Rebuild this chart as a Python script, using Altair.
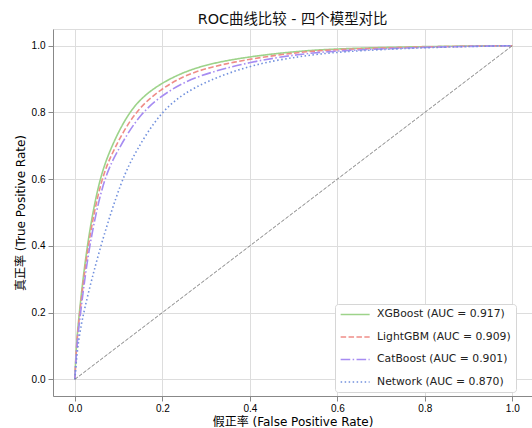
import altair as alt
import pandas as pd

# ---- data ----
models = [
    "XGBoost (AUC = 0.917)",
    "LightGBM (AUC = 0.909)",
    "CatBoost (AUC = 0.901)",
    "Network (AUC = 0.870)",
]
colors = ["#9dd38a", "#ef8d88", "#a68cf2", "#7190dd"]
dashes = [[1, 0], [5.5, 2.4], [9.6, 2.4, 1.5, 2.4], [1.5, 2.5]]

xgb_fpr = [0, 0.003, 0.010, 0.027, 0.055, 0.084, 0.122, 0.171, 0.27, 0.40, 0.514, 0.60, 0.80, 1.0]
xgb_tpr = [0, 0.10, 0.20, 0.40, 0.60, 0.70, 0.80, 0.870, 0.938, 0.968, 0.984, 0.991, 0.998, 1.0]

lgb_fpr = [0, 0.0035, 0.011, 0.029, 0.059, 0.089, 0.135, 0.194, 0.27, 0.40, 0.514, 0.60, 0.80, 1.0]
lgb_tpr = [0, 0.10, 0.20, 0.40, 0.60, 0.69, 0.80, 0.869, 0.926, 0.961, 0.981, 0.989, 0.997, 1.0]

cat_fpr = [0, 0.004, 0.013, 0.032, 0.065, 0.095, 0.149, 0.217, 0.28, 0.40, 0.514, 0.60, 0.80, 1.0]
cat_tpr = [0, 0.10, 0.20, 0.40, 0.60, 0.68, 0.80, 0.868, 0.91, 0.952, 0.975, 0.985, 0.996, 1.0]

net_fpr = [0, 0.006, 0.019, 0.058, 0.107, 0.140, 0.194, 0.265, 0.40, 0.514, 0.60, 0.80, 1.0]
net_tpr = [0, 0.10, 0.20, 0.40, 0.60, 0.685, 0.80, 0.876, 0.943, 0.968, 0.982, 0.995, 1.0]

diag_fpr = [0, 1]
diag_tpr = [0, 1]

ticks = [0, 0.2, 0.4, 0.6, 0.8, 1.0]

title_text = "ROC曲线比较 - 四个模型对比"
x_title = "假正率 (False Positive Rate)"
y_title = "真正率 (True Positive Rate)"

# ---- build tables ----
rows = []
for name, f, t in zip(models, [xgb_fpr, lgb_fpr, cat_fpr, net_fpr], [xgb_tpr, lgb_tpr, cat_tpr, net_tpr]):
    for i, (a, b) in enumerate(zip(f, t)):
        rows.append({"model": name, "fpr": a, "tpr": b, "order": i})
df = pd.DataFrame(rows)
diag = pd.DataFrame({"fpr": diag_fpr, "tpr": diag_tpr})

FONT = "DejaVu Sans, Noto Sans CJK SC"

xscale = alt.Scale(domain=[-0.05, 1.045], nice=False, zero=False)
yscale = alt.Scale(domain=[-0.05, 1.05], nice=False, zero=False)

xenc = alt.X("fpr:Q", scale=xscale,
             axis=alt.Axis(values=ticks, format=".1f", title=x_title, labelPadding=2, titlePadding=3,
                           titleFontWeight="normal", titleFont=FONT, titleFontSize=12))
yenc = alt.Y("tpr:Q", scale=yscale,
             axis=alt.Axis(values=ticks, format=".1f", title=y_title, labelPadding=3, titlePadding=4,
                           titleFontWeight="normal", titleFont=FONT, titleFontSize=12))

legend = alt.Legend(
    title=None,
    orient="none",
    legendX=282,
    legendY=275,
    padding=5,
    cornerRadius=3,
    fillColor="white",
    strokeColor="#d6d6d6",
    symbolType="M-3.625,0H3.625",
    symbolSize=64,
    symbolOffset=9.75,
    symbolStrokeWidth=1.5,
    labelOffset=16.5,
    rowPadding=10.5,
    labelFont=FONT,
    labelFontSize=10.8,
    labelColor="#222222",
    labelExpr="datum.label + '\u00a0\u00a0'",
)

lines = alt.Chart(df).mark_line(strokeWidth=1.6, interpolate="basis").encode(
    x=xenc,
    y=yenc,
    color=alt.Color("model:N", scale=alt.Scale(domain=models, range=colors), legend=legend),
    strokeDash=alt.StrokeDash("model:N", scale=alt.Scale(domain=models, range=dashes), legend=legend),
    order="order:Q",
)

diag_line = alt.Chart(diag).mark_line(color="#808080", strokeWidth=1, strokeDash=[3.7, 1.6]).encode(
    x=alt.X("fpr:Q", scale=xscale),
    y=alt.Y("tpr:Q", scale=yscale),
)

chart = alt.layer(lines, diag_line).properties(
    width=479,
    height=367,
    title=alt.TitleParams(title_text, font=FONT, fontSize=14.4, fontWeight="normal",
                          color="#111111", offset=2),
    autosize=alt.AutoSizeParams(type="none"),
    padding={"left": 53, "top": 29, "right": 0, "bottom": 32},
).configure_view(
    stroke="#555555", strokeWidth=1
).configure_axis(
    labelFont=FONT, labelFontSize=12, labelColor="#222222",
    titleFont=FONT, titleFontSize=12, titleFontWeight="normal", titleColor="#111111",
    tickColor="#555555", tickSize=4, domain=False,
    gridColor="#ebebeb", gridWidth=0.8,
).configure(background="white")

chart.save("out.html", embed_options={"renderer": "svg", "actions": False})
